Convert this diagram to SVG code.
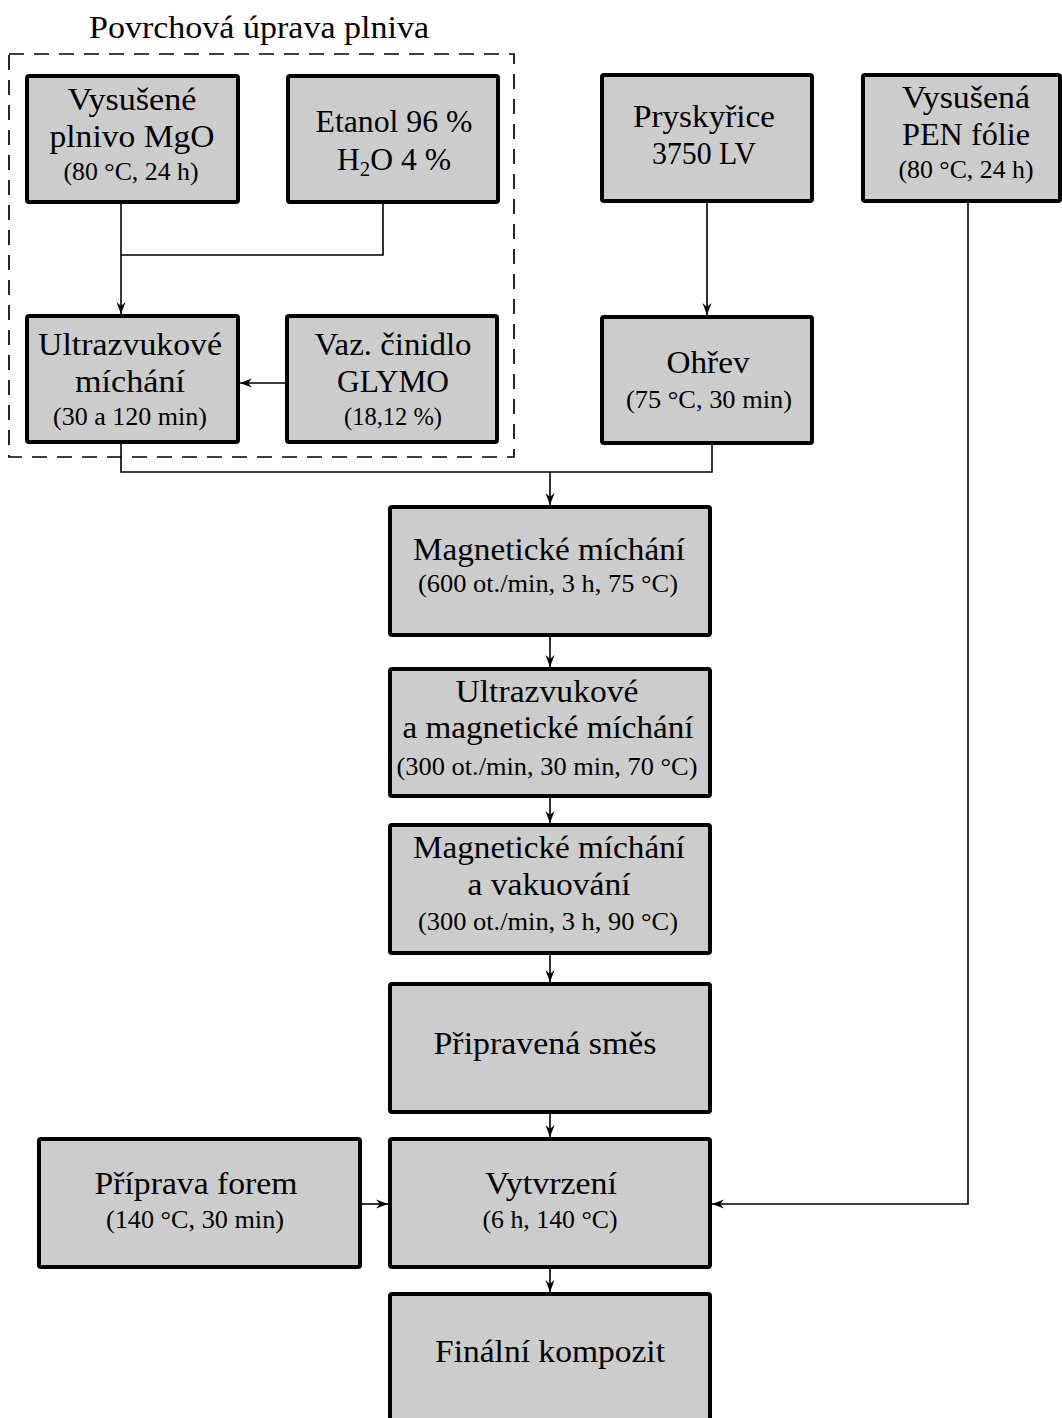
<svg xmlns="http://www.w3.org/2000/svg" width="1062" height="1418" viewBox="0 0 1062 1418">
  <style>
    .box { fill: #cccccc; stroke: #000; stroke-width: 4; stroke-linejoin: round; }
    .t { font-family: "Liberation Serif", "Times New Roman", serif; font-size: 32px; fill: #000; text-anchor: middle; }
    .s { font-size: 25px; }
    .wire { fill: none; stroke: #000; stroke-width: 1.6; }
    .group-frame { fill: none; stroke: #000; stroke-width: 1.7; stroke-dasharray: 15 10; }
  </style>
  <defs>
    <marker id="arrow" markerUnits="userSpaceOnUse" markerWidth="16" markerHeight="14" viewBox="-13 -7 14 14" refX="0" refY="0" orient="auto">
      <path d="M0,0 L-12,-4.5 L-8,0 L-12,4.5 Z" fill="#000"/>
    </marker>
  </defs>

  <rect width="1062" height="1418" fill="#fff"/>

  <!-- surface treatment group -->
  <g id="surface-treatment">
    <rect class="group-frame" x="9" y="54" width="505" height="403"/>
    <text class="t" x="259" y="38" textLength="340" lengthAdjust="spacingAndGlyphs">Povrchová úprava plniva</text>
  </g>

  <!-- connectors -->
  <g id="connectors">
    <path class="wire" d="M121,204 V314" marker-end="url(#arrow)"/>
    <path class="wire" d="M383,204 V255 H121"/>
    <path class="wire" d="M285,383 H240" marker-end="url(#arrow)"/>
    <path class="wire" d="M121,444 V472 H712 V445"/>
    <path class="wire" d="M550,472 V505" marker-end="url(#arrow)"/>
    <path class="wire" d="M707,203 V315" marker-end="url(#arrow)"/>
    <path class="wire" d="M550,637 V667" marker-end="url(#arrow)"/>
    <path class="wire" d="M550,798 V823" marker-end="url(#arrow)"/>
    <path class="wire" d="M550,955 V982" marker-end="url(#arrow)"/>
    <path class="wire" d="M550,1114 V1137" marker-end="url(#arrow)"/>
    <path class="wire" d="M550,1269 V1292" marker-end="url(#arrow)"/>
    <path class="wire" d="M362,1204 H388" marker-end="url(#arrow)"/>
    <path class="wire" d="M968,203 V1204 H712" marker-end="url(#arrow)"/>
  </g>

  <g id="mgo-filler">
    <rect class="box" x="27" y="76" width="211" height="126" rx="2"/>
    <text class="t" x="132" y="110" textLength="129" lengthAdjust="spacingAndGlyphs">Vysušené</text>
    <text class="t" x="132" y="147" textLength="165" lengthAdjust="spacingAndGlyphs">plnivo MgO</text>
    <text class="t s" x="131" y="180" textLength="135" lengthAdjust="spacingAndGlyphs">(80 °C, 24 h)</text>
  </g>

  <g id="ethanol">
    <rect class="box" x="288" y="76" width="210" height="126" rx="2"/>
    <text class="t" x="394" y="132" textLength="157" lengthAdjust="spacingAndGlyphs">Etanol 96 %</text>
    <text class="t" x="394" y="170" textLength="114" lengthAdjust="spacingAndGlyphs">H<tspan font-size="21" dy="6">2</tspan><tspan dy="-6">O 4 %</tspan></text>
  </g>

  <g id="ultrasonic-mixing">
    <rect class="box" x="27" y="316" width="211" height="126" rx="2"/>
    <text class="t" x="130" y="355" textLength="184" lengthAdjust="spacingAndGlyphs">Ultrazvukové</text>
    <text class="t" x="130" y="392" textLength="110" lengthAdjust="spacingAndGlyphs">míchání</text>
    <text class="t s" x="130" y="425" textLength="154" lengthAdjust="spacingAndGlyphs">(30 a 120 min)</text>
  </g>

  <g id="coupling-agent">
    <rect class="box" x="287" y="316" width="210" height="126" rx="2"/>
    <text class="t" x="393" y="355" textLength="157" lengthAdjust="spacingAndGlyphs">Vaz. činidlo</text>
    <text class="t" x="393" y="392" textLength="112" lengthAdjust="spacingAndGlyphs">GLYMO</text>
    <text class="t s" x="393" y="425" textLength="98" lengthAdjust="spacingAndGlyphs">(18,12 %)</text>
  </g>

  <g id="resin">
    <rect class="box" x="602" y="75" width="210" height="126" rx="2"/>
    <text class="t" x="704" y="127" textLength="142" lengthAdjust="spacingAndGlyphs">Pryskyřice</text>
    <text class="t" x="704" y="164" textLength="104" lengthAdjust="spacingAndGlyphs">3750 LV</text>
  </g>

  <g id="heating">
    <rect class="box" x="602" y="317" width="210" height="126" rx="2"/>
    <text class="t" x="708" y="373" textLength="83" lengthAdjust="spacingAndGlyphs">Ohřev</text>
    <text class="t s" x="709" y="408" textLength="166" lengthAdjust="spacingAndGlyphs">(75 °C, 30 min)</text>
  </g>

  <g id="pen-film">
    <rect class="box" x="863" y="75" width="197" height="126" rx="2"/>
    <text class="t" x="966" y="108" textLength="128" lengthAdjust="spacingAndGlyphs">Vysušená</text>
    <text class="t" x="966" y="145" textLength="128" lengthAdjust="spacingAndGlyphs">PEN fólie</text>
    <text class="t s" x="966" y="178" textLength="135" lengthAdjust="spacingAndGlyphs">(80 °C, 24 h)</text>
  </g>

  <g id="magnetic-mixing">
    <rect class="box" x="390" y="507" width="320" height="128" rx="2"/>
    <text class="t" x="549" y="560" textLength="272" lengthAdjust="spacingAndGlyphs">Magnetické míchání</text>
    <text class="t s" x="548" y="592" textLength="260" lengthAdjust="spacingAndGlyphs">(600 ot./min, 3 h, 75 °C)</text>
  </g>

  <g id="ultrasonic-magnetic-mixing">
    <rect class="box" x="390" y="669" width="320" height="127" rx="2"/>
    <text class="t" x="547" y="702" textLength="183" lengthAdjust="spacingAndGlyphs">Ultrazvukové</text>
    <text class="t" x="548" y="738" textLength="291" lengthAdjust="spacingAndGlyphs">a magnetické míchání</text>
    <text class="t s" x="547" y="775" textLength="301" lengthAdjust="spacingAndGlyphs">(300 ot./min, 30 min, 70 °C)</text>
  </g>

  <g id="magnetic-mixing-vacuum">
    <rect class="box" x="390" y="825" width="320" height="128" rx="2"/>
    <text class="t" x="549" y="858" textLength="272" lengthAdjust="spacingAndGlyphs">Magnetické míchání</text>
    <text class="t" x="549" y="895" textLength="163" lengthAdjust="spacingAndGlyphs">a vakuování</text>
    <text class="t s" x="548" y="930" textLength="260" lengthAdjust="spacingAndGlyphs">(300 ot./min, 3 h, 90 °C)</text>
  </g>

  <g id="prepared-mixture">
    <rect class="box" x="390" y="984" width="320" height="128" rx="2"/>
    <text class="t" x="545" y="1054" textLength="223" lengthAdjust="spacingAndGlyphs">Připravená směs</text>
  </g>

  <g id="mould-preparation">
    <rect class="box" x="39" y="1139" width="321" height="128" rx="2"/>
    <text class="t" x="196" y="1194" textLength="203" lengthAdjust="spacingAndGlyphs">Příprava forem</text>
    <text class="t s" x="195" y="1228" textLength="178" lengthAdjust="spacingAndGlyphs">(140 °C, 30 min)</text>
  </g>

  <g id="curing">
    <rect class="box" x="390" y="1139" width="320" height="128" rx="2"/>
    <text class="t" x="551" y="1194" textLength="132" lengthAdjust="spacingAndGlyphs">Vytvrzení</text>
    <text class="t s" x="550" y="1228" textLength="135" lengthAdjust="spacingAndGlyphs">(6 h, 140 °C)</text>
  </g>

  <g id="final-composite">
    <rect class="box" x="390" y="1294" width="320" height="140" rx="2"/>
    <text class="t" x="550" y="1362" textLength="230" lengthAdjust="spacingAndGlyphs">Finální kompozit</text>
  </g>
</svg>
